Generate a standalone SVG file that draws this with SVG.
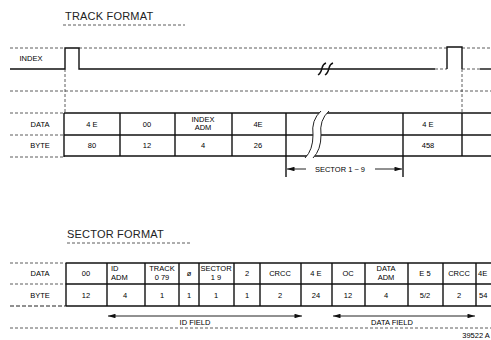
<svg xmlns="http://www.w3.org/2000/svg" width="491" height="340" viewBox="0 0 491 340">
<defs>
<style>
text{font-family:"Liberation Sans",Arial,sans-serif;fill:#000;text-anchor:middle}
.t{font-size:7.5px}
.h{font-size:11px;text-anchor:start;letter-spacing:0.2px;fill:#222}
.ln{stroke:#111;stroke-width:1.4;fill:none}
.thin{stroke:#222;stroke-width:1;fill:none}
.dash{stroke:#333;stroke-width:0.8;stroke-dasharray:3 2;fill:none}
.dashb{stroke:#222;stroke-width:1;stroke-dasharray:4 2;fill:none}
</style>
<marker id="ah" viewBox="0 0 10 6" refX="10" refY="3" markerWidth="9" markerHeight="4.5" orient="auto-start-reverse" markerUnits="userSpaceOnUse">
<path d="M0,0 L10,3 L0,6 Z" fill="#111"/>
</marker>
</defs>
<rect width="491" height="340" fill="#fff"/>

<g id="track-title">
<text class="h" x="65" y="20">TRACK  FORMAT</text>
<line class="dash" x1="63" y1="25" x2="185" y2="25"/>
</g>

<g id="index-row">
<line class="dash" x1="10" y1="48" x2="65" y2="48"/>
<line class="dash" x1="79" y1="48" x2="447" y2="48"/>
<line class="dash" x1="462" y1="48" x2="491" y2="48"/>
<path class="ln" d="M10,69 H65 V48 H79 V69 H435"/>
<line class="dash" x1="435" y1="69" x2="447" y2="69"/>
<path class="ln" d="M447,69 V47 H462 V69"/>
<line class="dash" x1="462" y1="69" x2="480" y2="69"/>
<line class="ln" x1="480" y1="69" x2="491" y2="69"/>
<text class="t" x="31" y="61">INDEX</text>
<path class="ln" d="M318,75 Q321,73 322,68 Q323,64 326,63 M325,75 Q328,73 329,68 Q330,64 333,63" stroke-width="1.4"/>
<line class="dash" x1="10" y1="91" x2="491" y2="91"/>
<line class="dash" x1="65" y1="69" x2="65" y2="113"/>
<line class="dash" x1="462" y1="69" x2="462" y2="113"/>
</g>

<g id="track-table">
<line class="dash" x1="10" y1="113" x2="64" y2="113"/>
<line class="dash" x1="10" y1="135" x2="64" y2="135"/>
<line class="dash" x1="10" y1="157" x2="64" y2="157"/>
<line class="ln" x1="64" y1="113" x2="491" y2="113"/>
<line class="ln" x1="64" y1="135" x2="491" y2="135"/>
<line class="ln" x1="64" y1="156" x2="491" y2="156"/>
<line class="ln" x1="64" y1="113" x2="64" y2="157"/>
<line class="ln" x1="120" y1="113" x2="120" y2="156"/>
<line class="ln" x1="175" y1="113" x2="175" y2="156"/>
<line class="ln" x1="232" y1="113" x2="232" y2="156"/>
<line class="ln" x1="286" y1="113" x2="286" y2="156"/>
<line class="ln" x1="403" y1="113" x2="403" y2="156"/>
<line class="ln" x1="462" y1="113" x2="462" y2="156"/>
<path d="M321,111 Q311,120 313,135 Q313,150 305,158 L313,158 Q321,150 321,135 Q319,120 329,111 Z" fill="#fff"/>
<path class="thin" d="M321,111 Q311,120 313,135 Q313,150 305,158"/>
<path class="thin" d="M329,111 Q319,120 321,135 Q321,150 313,158"/>
<text class="t" x="40" y="127">DATA</text>
<text class="t" x="40" y="148">BYTE</text>
<text class="t" x="92" y="127">4 E</text>
<text class="t" x="147" y="127">00</text>
<text class="t" x="203" y="122">INDEX</text>
<text class="t" x="203" y="130">ADM</text>
<text class="t" x="258" y="127">4E</text>
<text class="t" x="428" y="127">4 E</text>
<text class="t" x="92" y="148">80</text>
<text class="t" x="147" y="148">12</text>
<text class="t" x="203" y="148">4</text>
<text class="t" x="258" y="148">26</text>
<text class="t" x="428" y="148">458</text>
</g>

<g id="sector-span">
<line class="ln" x1="286" y1="156" x2="286" y2="177"/>
<line class="ln" x1="403" y1="156" x2="403" y2="177"/>
<line class="thin" x1="287" y1="169" x2="306" y2="169" marker-start="url(#ah)"/>
<line class="thin" x1="375" y1="169" x2="402" y2="169" marker-end="url(#ah)"/>
<text class="t" x="340" y="172">SECTOR  1 ~ 9</text>
</g>

<g id="sector-title">
<text class="h" x="67" y="238">SECTOR  FORMAT</text>
<line class="dash" x1="67" y1="243" x2="190" y2="243"/>
</g>

<g id="sector-table">
<line class="dash" x1="10" y1="263" x2="66" y2="263"/>
<line class="dash" x1="10" y1="284" x2="66" y2="284"/>
<line class="dashb" x1="10" y1="306" x2="66" y2="306"/>
<line class="ln" x1="66" y1="263" x2="491" y2="263"/>
<line class="ln" x1="66" y1="284" x2="491" y2="284"/>
<line class="ln" x1="66" y1="306" x2="491" y2="306"/>
<line class="ln" x1="66" y1="263" x2="66" y2="306"/>
<line class="ln" x1="107" y1="263" x2="107" y2="306"/>
<line class="ln" x1="145" y1="263" x2="145" y2="306"/>
<line class="ln" x1="179" y1="263" x2="179" y2="306"/>
<line class="ln" x1="199" y1="263" x2="199" y2="306"/>
<line class="ln" x1="234" y1="263" x2="234" y2="306"/>
<line class="ln" x1="260" y1="263" x2="260" y2="306"/>
<line class="ln" x1="301" y1="263" x2="301" y2="306"/>
<line class="ln" x1="332" y1="263" x2="332" y2="306"/>
<line class="ln" x1="365" y1="263" x2="365" y2="306"/>
<line class="ln" x1="408" y1="263" x2="408" y2="306"/>
<line class="ln" x1="443" y1="263" x2="443" y2="306"/>
<line class="ln" x1="476" y1="263" x2="476" y2="306"/>
<text class="t" x="40" y="276">DATA</text>
<text class="t" x="40" y="298">BYTE</text>
<text class="t" x="86" y="276">00</text>
<text class="t" x="111" y="271" style="text-anchor:start">ID</text>
<text class="t" x="111" y="279.5" style="text-anchor:start">ADM</text>
<text class="t" x="162" y="271">TRACK</text>
<text class="t" x="162" y="279.5">0  79</text>
<text class="t" x="189" y="276">ø</text>
<text class="t" x="216" y="271">SECTOR</text>
<text class="t" x="216" y="279.5">1   9</text>
<text class="t" x="247" y="276">2</text>
<text class="t" x="280" y="276">CRCC</text>
<text class="t" x="316" y="276">4 E</text>
<text class="t" x="348" y="276">OC</text>
<text class="t" x="386" y="271">DATA</text>
<text class="t" x="386" y="279.5">ADM</text>
<text class="t" x="425" y="276">E 5</text>
<text class="t" x="459" y="276">CRCC</text>
<text class="t" x="478" y="276" style="text-anchor:start">4E</text>
<text class="t" x="86" y="298">12</text>
<text class="t" x="125" y="298">4</text>
<text class="t" x="162" y="298">1</text>
<text class="t" x="189" y="298">1</text>
<text class="t" x="216" y="298">1</text>
<text class="t" x="247" y="298">1</text>
<text class="t" x="280" y="298">2</text>
<text class="t" x="316" y="298">24</text>
<text class="t" x="348" y="298">12</text>
<text class="t" x="386" y="298">4</text>
<text class="t" x="425" y="298">5/2</text>
<text class="t" x="459" y="298">2</text>
<text class="t" x="479" y="298" style="text-anchor:start">54</text>
</g>

<g id="connectors">
<line class="thin" x1="108" y1="316" x2="302" y2="316" marker-start="url(#ah)" marker-end="url(#ah)"/>
<text class="t" x="195" y="325">ID FIELD</text>
<line class="thin" x1="333" y1="316" x2="475" y2="316" marker-start="url(#ah)" marker-end="url(#ah)"/>
<text class="t" x="392" y="325">DATA FIELD</text>
<line class="dash" x1="10" y1="328" x2="491" y2="328"/>
</g>

<text class="t" x="476" y="338">39522 A</text>
</svg>
